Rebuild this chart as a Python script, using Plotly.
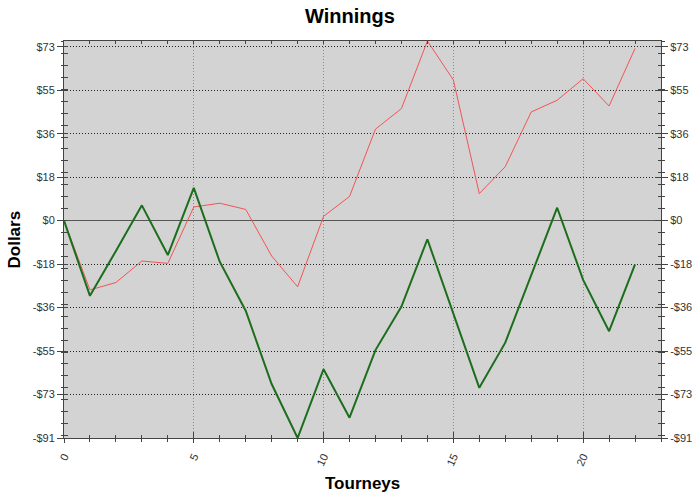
"""Winnings chart: two players' running totals per tourney."""

import plotly.graph_objects as go

# --- data ---
tourneys = list(range(23))
winnings_red = [0, -29, -25.9, -16.9, -17.9, 5.7, 7.3, 4.7, -14.8, -27.7, 1.8, 10.1,
                38.3, 46.9, 75.2, 58.9, 11.3, 22.6, 45.5, 50.4, 59.4, 48.0, 72.1]
winnings_green = [0, -31.5, -12.7, 6.4, -14.4, 13.7, -17.2, -37.7, -68.4, -91, -62.2, -82.5,
                  -54.2, -36, -7.8, -38.5, -70, -51.1, -23, 5.4, -24.8, -46.3, -18.3]

dollar_ticks = [-91, -72.8, -54.6, -36.4, -18.2, 0, 18.2, 36.4, 54.6, 72.8]
dollar_labels = ["-$91", "-$73", "-$55", "-$36", "-$18", "$0", "$18", "$36", "$55", "$73"]
tourney_ticks = [0, 5, 10, 15, 20]

AXIS_COLOR = "#444444"
FONT = "Liberation Sans, Arial, sans-serif"

W, H = 700, 499
PLOT_L, PLOT_R, PLOT_T, PLOT_B = 64, 661, 41, 438

y_range = [min(winnings_green + winnings_red), max(winnings_green + winnings_red)]
x_range = [0, 23]

fig = go.Figure()

fig.add_trace(go.Scatter(
    x=tourneys, y=winnings_red, mode="lines", name="Red",
    line={"color": "#f25555", "width": 1},
))
fig.add_trace(go.Scatter(
    x=tourneys, y=winnings_green, mode="lines", name="Green",
    line={"color": "#1c6e1c", "width": 2},
))

# invisible copies so that the overlay axes (crossing ticks, right labels) get drawn
for xa, ya in [("x2", "y2"), ("x3", "y3"), ("x", "y4")]:
    fig.add_trace(go.Scatter(
        x=tourneys, y=winnings_red, mode="lines", xaxis=xa, yaxis=ya,
        line={"width": 0}, opacity=0, hoverinfo="skip", showlegend=False,
    ))

y_common = dict(
    range=y_range, tickmode="array", tickvals=dollar_ticks, ticktext=dollar_labels,
    tickcolor=AXIS_COLOR, showline=True, linecolor=AXIS_COLOR, linewidth=1,
    tickfont={"size": 11, "color": "#333333", "family": FONT},
    fixedrange=True, automargin=False,
)
x_common = dict(
    range=x_range, tickmode="array", tickvals=tourney_ticks,
    tickcolor=AXIS_COLOR, showline=True, linecolor=AXIS_COLOR, linewidth=1,
    fixedrange=True, automargin=False,
)
y_minor = {"dtick": 5, "tick0": 0, "tickcolor": AXIS_COLOR, "showgrid": False}
x_minor = {"dtick": 1, "tick0": 0, "tickcolor": AXIS_COLOR, "showgrid": False}

pw, ph = PLOT_R - PLOT_L, PLOT_B - PLOT_T

fig.update_layout(
    width=W,
    height=H,
    showlegend=False,
    paper_bgcolor="white",
    plot_bgcolor="#d3d3d3",
    margin={"l": PLOT_L, "r": W - PLOT_R, "t": PLOT_T, "b": H - PLOT_B,
            "autoexpand": False},
    font={"family": FONT, "color": "#000000"},
    title={"text": "<b>Winnings</b>", "x": 0.5, "xanchor": "center",
           "xref": "container", "y": 1 - 16 / H, "yanchor": "middle",
           "font": {"size": 20, "color": "#000000"}},
    xaxis=dict(
        x_common, ticks="outside", ticklen=4, tickangle=-65, ticklabelstandoff=3,
        tickfont={"size": 11, "color": "#333333", "family": FONT},
        showgrid=True, gridcolor="#8a8a8a", griddash="1px,2px", gridwidth=1,
        zeroline=False,
        minor=dict(x_minor, ticks="outside", ticklen=3),
    ),
    xaxis2=dict(
        x_common, overlaying="x", anchor="y", side="bottom", ticks="inside", ticklen=6,
        showticklabels=False, showgrid=False, zeroline=False,
        minor=dict(x_minor, ticks="inside", ticklen=3),
    ),
    xaxis3=dict(
        x_common, overlaying="x", anchor="y", side="top", ticks="inside", ticklen=3,
        showticklabels=False, showgrid=False, zeroline=False,
        minor=dict(x_minor, ticks="inside", ticklen=3),
    ),
    yaxis=dict(
        y_common, ticks="outside", ticklen=6, side="left",
        showgrid=True, gridcolor="#222222", griddash="1px,2px", gridwidth=1,
        zeroline=True, zerolinecolor="#555555", zerolinewidth=1,
        minor=dict(y_minor, ticks="outside", ticklen=2),
    ),
    yaxis2=dict(
        y_common, overlaying="y", anchor="x", side="left", ticks="inside", ticklen=4,
        showticklabels=False, showgrid=False, zeroline=False,
        minor=dict(y_minor, ticks="inside", ticklen=4),
    ),
    yaxis3=dict(
        y_common, overlaying="y", anchor="x", side="right", ticks="outside", ticklen=6,
        showgrid=False, zeroline=False,
        minor=dict(y_minor, ticks="outside", ticklen=3),
    ),
    yaxis4=dict(
        y_common, overlaying="y", anchor="x", side="right", ticks="inside", ticklen=6,
        showticklabels=False, showgrid=False, zeroline=False,
        minor=dict(y_minor, ticks="inside", ticklen=3),
    ),
    annotations=[
        dict(text="<b>Dollars</b>", textangle=-90, showarrow=False,
             xref="paper", yref="paper", x=(14 - PLOT_L) / pw, y=0.5,
             xanchor="center", yanchor="middle", font={"size": 17}),
        dict(text="<b>Tourneys</b>", showarrow=False,
             xref="paper", yref="paper", x=0.5, y=(PLOT_B - 483) / ph,
             xanchor="center", yanchor="middle", font={"size": 17}),
    ],
)

# drop the browser's default 8px body margin so the figure fills the window exactly
fig.write_html("out.html", config={"displayModeBar": False},
               post_script="document.body.style.margin = '0';")
